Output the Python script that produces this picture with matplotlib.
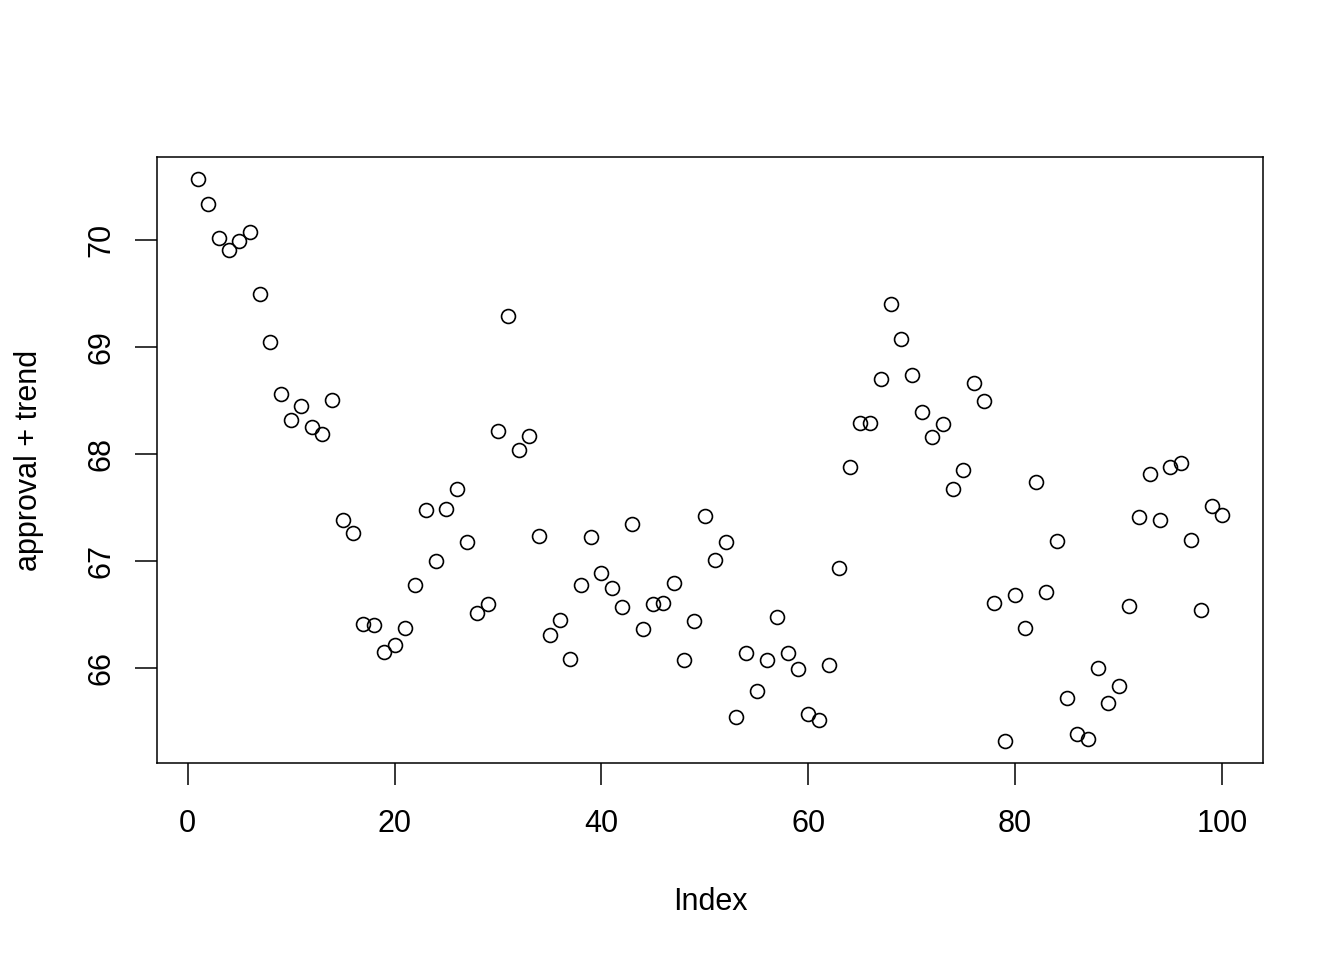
import matplotlib
matplotlib.use("Agg")
import matplotlib.pyplot as plt
import numpy as np

index = np.arange(1, 101)
approval_trend = [
    70.57, 70.34, 70.02, 69.91, 69.99, 70.08, 69.50, 69.05, 68.56, 68.32,
    68.45, 68.25, 68.19, 68.51, 67.38, 67.26, 66.41, 66.40, 66.15, 66.21,
    66.37, 66.78, 67.48, 67.00, 67.49, 67.67, 67.18, 66.51, 66.60, 68.22,
    69.29, 68.04, 68.17, 67.23, 66.31, 66.45, 66.08, 66.78, 67.22, 66.89,
    66.75, 66.57, 67.35, 66.36, 66.60, 66.61, 66.79, 66.07, 66.44, 67.42,
    67.01, 67.18, 65.54, 66.14, 65.78, 66.07, 66.48, 66.14, 65.99, 65.57,
    65.51, 66.03, 66.93, 67.88, 68.29, 68.29, 68.70, 69.40, 69.08, 68.74,
    68.39, 68.16, 68.28, 67.67, 67.85, 68.67, 68.50, 66.61, 65.32, 66.68,
    66.37, 67.74, 66.71, 67.19, 65.72, 65.38, 65.33, 66.00, 65.67, 65.83,
    66.58, 67.41, 67.81, 67.38, 67.88, 67.92, 67.20, 66.54, 67.51, 67.43,
]
x_ticks = [0, 20, 40, 60, 80, 100]
y_ticks = [66, 67, 68, 69, 70]

plt.rcParams["font.family"] = ["Liberation Sans", "DejaVu Sans"]

fig = plt.figure(figsize=(13.44, 9.6), dpi=100)
ax = fig.add_axes([157 / 1344, 1 - 763 / 960, (1263 - 157) / 1344, (763 - 157) / 960])

ax.plot(index, approval_trend, linestyle="none", marker="o", markersize=10,
        markerfacecolor="none", markeredgecolor="black", markeredgewidth=1.2)

# R style: 4% padding on both axes
def padded(vals):
    lo, hi = min(vals), max(vals)
    d = (hi - lo) * 0.04
    return lo - d, hi + d

ax.set_xlim(*padded(index))
ax.set_ylim(*padded(approval_trend))

ax.set_xticks(x_ticks)
ax.set_yticks(y_ticks)
ax.set_yticklabels([str(v) for v in y_ticks], rotation=90, va="center")
ax.tick_params(direction="out", length=16, width=1.1, labelsize=22)
ax.tick_params(axis="x", pad=17)
ax.tick_params(axis="y", pad=13)
for s in ax.spines.values():
    s.set_linewidth(1.1)

ax.set_xlabel("Index", fontsize=22, labelpad=35)
ax.set_ylabel("approval + trend", fontsize=22, labelpad=31)

fig.savefig("out.png", dpi=100)
